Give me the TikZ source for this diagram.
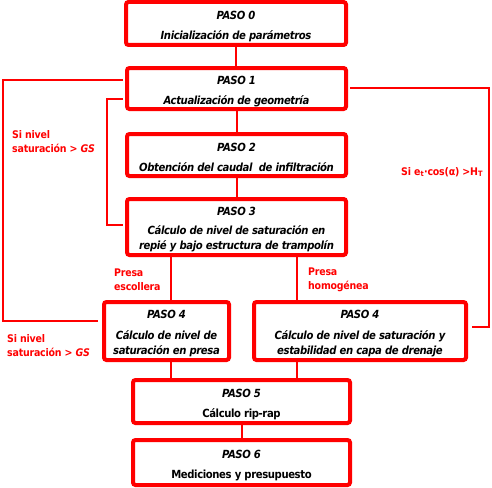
\documentclass[tikz,border=0pt]{standalone}
\usepackage{fontspec}
\setmainfont{DejaVu Sans Condensed}
\newfontfamily\boxfont{DejaVu Sans Condensed}[LetterSpace=-3.5]
\newfontfamily\lblfont{DejaVu Sans Condensed}[LetterSpace=-2]
\newcommand\tstrut{\rule{0pt}{13.6pt}}
\begin{document}
\begin{tikzpicture}[x=1pt,y=-1pt,
  box/.style={draw=red, line width=4pt, rounded corners=2.5pt, fill=white, inner sep=0pt,
    align=center, font=\boxfont\bfseries\itshape\fontsize{11.2}{15}\selectfont},
  conn/.style={draw=red, line width=2pt},
  lbl/.style={text=red, font=\lblfont\bfseries\fontsize{10.5}{14}\selectfont, align=left, inner sep=0pt, anchor=west}]
\useasboundingbox (0,0) rectangle (492,487);
% coordinates for connector routing
\coordinate (cx1) at (171,0);
\coordinate (cx2) at (297,0);
\coordinate (lo) at (3,0);
\coordinate (li) at (107,0);
\coordinate (ro) at (489,0);
\coordinate (y80) at (0,80);
\coordinate (y88) at (0,88);
\coordinate (y99) at (0,99);
\coordinate (y225) at (0,225);
\coordinate (y321) at (0,321);
\coordinate (y327) at (0,327);
% boxes
\node[box, minimum width=220pt, minimum height=43pt] (b0) at (236,23.5)
  {\tstrut PASO 0\\[5pt]Inicialización de parámetros};
\node[box, minimum width=219pt, minimum height=41pt] (b1) at (236.5,88.5)
  {\tstrut PASO 1\\[5pt]Actualización de geometría};
\node[box, minimum width=219pt, minimum height=42pt] (b2) at (236.5,155)
  {\tstrut PASO 2\\[5pt]Obtención del caudal\ \ de infiltración};
\node[box, minimum width=219pt, minimum height=56pt] (b3) at (236.5,227)
  {\tstrut PASO 3\\[4pt]Cálculo de nivel de saturación en\\repié y bajo estructura de trampolín};
\node[box, minimum width=125pt, minimum height=58pt] (b4l) at (166.5,331)
  {\tstrut PASO 4\\[6pt]Cálculo de nivel de\\saturación en presa};
\node[box, minimum width=212pt, minimum height=58pt] (b4r) at (360,331)
  {\tstrut PASO 4\\[6pt]Cálculo de nivel de saturación y\\estabilidad en capa de drenaje};
\node[box, minimum width=217pt, minimum height=43pt] (b5) at (241.5,401.5)
  {\tstrut PASO 5\\[5pt]\textup{Cálculo rip-rap}};
\node[box, minimum width=217pt, minimum height=45pt] (b6) at (241.5,462.5)
  {\tstrut PASO 6\\[5pt]\textup{Mediciones y presupuesto}};
% straight connectors
\draw[conn] (b0.south) -- (b0.south |- b1.north);
\draw[conn] (b1.south) -- (b1.south |- b2.north);
\draw[conn] (b2.south) -- (b2.south |- b3.north);
\draw[conn] (b3.south -| cx1) -- (b4l.north -| cx1);
\draw[conn] (b3.south -| cx2) -- (b4r.north -| cx2);
\draw[conn] (b4l.south -| cx1) -- (b5.north -| cx1);
\draw[conn] (b4r.south -| cx2) -- (b5.north -| cx2);
\draw[conn] (b5.south -| b6.north) -- (b6.north);
% feedback loops
\draw[conn, shorten <=2pt, shorten >=4pt] (b1.west |- y80) -- (lo |- y80) -- (lo |- y321) -- (b4l.west |- y321);
\draw[conn, shorten <=2pt, shorten >=2pt] (b1.west |- y99) -- (li |- y99) -- (li |- y225) -- (b3.west |- y225);
\draw[conn, shorten <=2pt, shorten >=4pt] (b1.east |- y88) -- (ro |- y88) -- (ro |- y327) -- (b4r.east |- y327);
% labels
\node[lbl] (l1) at (12,142) {Si nivel\\saturación > \textit{GS}};
\node[lbl] (l2) at (7,346) {Si nivel\\saturación > \textit{GS}};
\node[lbl] (l3) at (401,172) {Si e\textsubscript{t}·cos(α) >H\textsubscript{T}};
\node[lbl] (l4) at (114,280) {Presa\\escollera};
\node[lbl] (l5) at (308,280) {Presa\\homogénea};
\end{tikzpicture}
\end{document}
